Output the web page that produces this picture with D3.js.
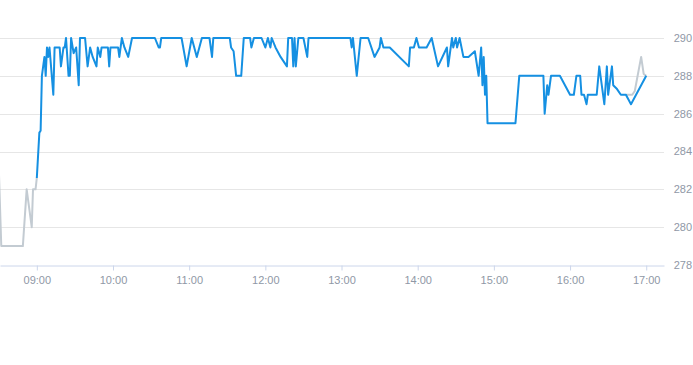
<!DOCTYPE html>
<html>
<head>
<meta charset="utf-8">
<script src="https://cdn.jsdelivr.net/npm/d3@7"></script>
<style>
    body { margin: 0; background: #fff; }
    #chart { width: 693px; height: 365px; }
    .tick-label { font-family: "Liberation Sans Narrow", "Arial Narrow", "Liberation Sans", sans-serif; font-size: 11px; fill: #8f98a6; }
</style>
</head>
<body>
<div id="chart"></div>
<script>
// Session (blue) series: time of day and price
const sessionTimes = [
    '09:00', '09:02', '09:03', '09:04', '09:06', '09:07', '09:08', '09:09', '09:10', '09:13',
    '09:14', '09:18', '09:19', '09:21', '09:22', '09:23', '09:25', '09:26', '09:27', '09:29',
    '09:31', '09:33', '09:34', '09:36', '09:38', '09:40', '09:42', '09:44', '09:47', '09:48',
    '09:50', '09:51', '09:56', '09:57', '09:58', '10:04', '10:05', '10:07', '10:09', '10:12',
    '10:15', '10:33', '10:36', '10:37', '10:38', '10:54', '10:58', '11:02', '11:06', '11:10',
    '11:16', '11:18', '11:19', '11:32', '11:33', '11:35', '11:37', '11:41', '11:43', '11:48',
    '11:49', '11:51', '11:57', '12:00', '12:02', '12:04', '12:05', '12:08', '12:12', '12:17',
    '12:18', '12:21', '12:22', '12:23', '12:24', '12:26', '12:30', '12:33', '12:34', '13:07',
    '13:08', '13:09', '13:12', '13:15', '13:21', '13:26', '13:30', '13:31', '13:33', '13:38',
    '13:53', '13:54', '13:57', '13:59', '14:01', '14:07', '14:11', '14:16', '14:23', '14:24',
    '14:27', '14:28', '14:30', '14:31', '14:33', '14:36', '14:39', '14:40', '14:45', '14:48',
    '14:50', '14:51', '14:52', '14:53', '14:54', '14:55', '15:17', '15:20', '15:39', '15:40',
    '15:42', '15:43', '15:45', '15:52', '15:56', '16:00', '16:03', '16:05', '16:08', '16:09',
    '16:11', '16:13', '16:14', '16:21', '16:23', '16:27', '16:29', '16:30', '16:33', '16:34',
    '16:37', '16:40', '16:44', '16:48', '17:00'
];
const sessionValues = [
    282.6, 285.0, 285.1, 288.0, 289.0, 288.0, 289.5, 289.0, 289.5, 287.0,
    289.5, 289.5, 288.5, 289.5, 289.5, 290.0, 288.0, 288.0, 290.0, 289.2,
    289.5, 287.5, 290.0, 290.0, 290.0, 288.5, 289.5, 289.0, 288.5, 289.5,
    289.0, 289.5, 289.5, 288.5, 289.5, 289.5, 289.0, 290.0, 289.5, 289.0,
    290.0, 290.0, 289.5, 289.5, 290.0, 290.0, 288.5, 290.0, 289.0, 290.0,
    290.0, 289.0, 290.0, 290.0, 289.5, 289.3, 288.0, 288.0, 290.0, 290.0,
    289.5, 290.0, 290.0, 289.5, 290.0, 289.5, 290.0, 289.5, 289.0, 288.5,
    290.0, 290.0, 288.5, 290.0, 288.5, 290.0, 290.0, 289.0, 290.0, 290.0,
    289.5, 290.0, 288.0, 290.0, 290.0, 289.0, 289.5, 290.0, 289.5, 289.5,
    288.5, 289.5, 289.5, 290.0, 289.5, 289.5, 290.0, 288.5, 289.5, 288.5,
    290.0, 289.5, 290.0, 289.5, 290.0, 289.0, 289.0, 289.0, 289.3, 288.0,
    289.5, 287.5, 289.0, 287.0, 288.0, 285.5, 285.5, 288.0, 288.0, 286.0,
    287.5, 287.0, 288.0, 288.0, 287.5, 287.0, 287.0, 288.0, 288.0, 287.0,
    287.0, 286.5, 287.0, 287.0, 288.5, 286.5, 288.5, 287.0, 288.5, 287.5,
    287.3, 287.0, 287.0, 286.5, 288.0
];

// Pre-open and closing auction (grey) series
const preTimes = ['08:30', '08:32', '08:49', '08:52', '08:56', '08:57', '08:59', '09:00'];
const preValues = [283.2, 279.0, 279.0, 282.0, 280.0, 282.0, 282.0, 282.6];
const postTimes = ['16:44', '16:49', '16:51', '16:56', '16:58', '17:00'];
const postValues = [287.0, 287.0, 287.2, 289.0, 288.1, 288.0];

const yTicks = [278, 280, 282, 284, 286, 288, 290];
const xTickLabels = ['09:00', '10:00', '11:00', '12:00', '13:00', '14:00', '15:00', '16:00', '17:00'];

const parseTime = d3.timeParse('%H:%M');
const toPoints = (times, values) => times.map((t, i) => ({ t: parseTime(t), v: values[i] }));

const container = document.getElementById('chart');
const margin = { top: 0, right: 29, bottom: 100, left: 0 };
const width = 693 - margin.left - margin.right;
const height = 365 - margin.top - margin.bottom;

const svg = d3.select(container)
    .append('svg')
    .attr('width', 693)
    .attr('height', 365);

const g = svg.append('g')
    .attr('transform', `translate(${margin.left},${margin.top})`);

const xScale = d3.scaleTime()
    .domain([parseTime('08:31'), parseTime('17:14')])
    .range([0, width]);

const yScale = d3.scaleLinear()
    .domain([278, 290])
    .range([height, 38]);

// Grid lines
g.selectAll('.grid')
    .data(yTicks.slice(1))
    .enter()
    .append('line')
    .attr('x1', 0)
    .attr('x2', width)
    .attr('y1', d => Math.round(yScale(d)) + 0.5)
    .attr('y2', d => Math.round(yScale(d)) + 0.5)
    .attr('stroke', '#e6e6e6');

// Right axis labels
g.selectAll('.ylab')
    .data(yTicks)
    .enter()
    .append('text')
    .attr('class', 'tick-label')
    .attr('x', 692)
    .attr('y', d => yScale(d))
    .attr('dy', '0.35em')
    .attr('text-anchor', 'end')
    .text(d => d);

// Bottom axis
const xAxis = d3.axisBottom(xScale)
    .tickValues(xTickLabels.map(parseTime))
    .tickFormat(d3.timeFormat('%H:%M'))
    .tickSize(5)
    .tickSizeOuter(0);

const ax = g.append('g')
    .attr('transform', `translate(0,${Math.round(height) + 0.5})`)
    .call(xAxis);
ax.select('.domain').attr('stroke', '#ccd6eb');
ax.selectAll('.tick line').attr('stroke', '#ccd6eb');
ax.selectAll('.tick text')
    .attr('class', 'tick-label')
    .attr('y', 11);

// Lines
g.append('clipPath')
    .attr('id', 'plot-clip')
    .append('rect')
    .attr('width', width)
    .attr('height', height);

const line = d3.line()
    .x(d => xScale(d.t))
    .y(d => yScale(d.v));

const lines = g.append('g').attr('clip-path', 'url(#plot-clip)');

[toPoints(preTimes, preValues), toPoints(postTimes, postValues)].forEach(pts => {
    lines.append('path')
        .datum(pts)
        .attr('fill', 'none')
        .attr('stroke', '#c3cbd2')
        .attr('stroke-width', 2)
        .attr('stroke-linejoin', 'round')
        .attr('d', line);
});

lines.append('path')
    .datum(toPoints(sessionTimes, sessionValues))
    .attr('fill', 'none')
    .attr('stroke', '#1590e2')
    .attr('stroke-width', 2)
    .attr('stroke-linejoin', 'round')
    .attr('d', line);
</script>
</body>
</html>
